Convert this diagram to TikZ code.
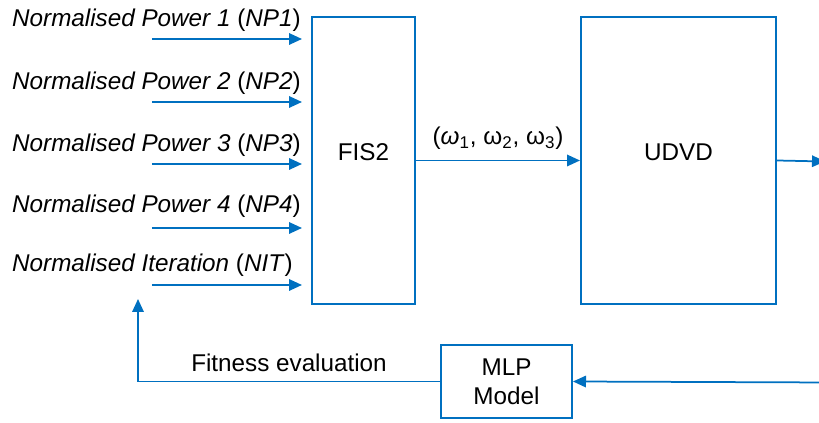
\documentclass[tikz,border=0pt]{standalone}
\usepackage{fontspec}
\setmainfont{Liberation Sans}
\usetikzlibrary{positioning}
\usetikzlibrary{arrows.meta}
\definecolor{linec}{RGB}{0,112,192}

\begin{document}
\begin{tikzpicture}[scale=1.0,font=\fontsize{13.8}{16.4}\selectfont,
  blk/.style={draw=linec,line width=0.04cm,shape=rectangle,inner sep=0pt},
  conn/.style={draw=linec,line width=0.035cm,-{Triangle[length=0.26cm,width=0.23cm]}}]
\useasboundingbox (0cm,0cm) rectangle (16.38cm,8.46cm);

\node[anchor=south,blk,minimum height=5.74cm,minimum width=2.06cm,
  label={[yshift=0.16cm]center:FIS2}]
(fis) at (7.27cm,2.36cm) {};
\node[anchor=south,blk,minimum height=5.74cm,minimum width=3.9cm,
  label={[yshift=0.16cm]center:UDVD}]
(udvd) at (13.57cm,2.36cm) {};
\node[anchor=south,blk,minimum height=1.46cm,minimum width=2.62cm,align=center]
(mlp) at (10.13cm,0.08cm) {MLP\\Model};

% inputs
\coordinate (np1) at (3.04cm,7.68cm);
\coordinate (np2) at (3.04cm,6.42cm);
\coordinate (np3) at (3.04cm,5.18cm);
\coordinate (np4) at (3.04cm,3.90cm);
\coordinate (nit) at (3.04cm,2.76cm);
\node[anchor=base west] (lnp1) at (0.12cm,7.92cm) {\textit{Normalised Power 1} (\textit{NP1})};
\node[anchor=base west] (lnp2) at (0.12cm,6.66cm) {\textit{Normalised Power 2} (\textit{NP2})};
\node[anchor=base west] (lnp3) at (0.12cm,5.42cm) {\textit{Normalised Power 3} (\textit{NP3})};
\node[anchor=base west] (lnp4) at (0.12cm,4.20cm) {\textit{Normalised Power 4} (\textit{NP4})};
\node[anchor=base west] (lnit) at (0.12cm,3.02cm) {\textit{Normalised Iteration} (\textit{NIT})};
\draw[conn,shorten >=0.18cm] (np1) -- (np1 -| fis.west);
\draw[conn,shorten >=0.18cm] (np2) -- (np2 -| fis.west);
\draw[conn,shorten >=0.18cm] (np3) -- (np3 -| fis.west);
\draw[conn,shorten >=0.18cm] (np4) -- (np4 -| fis.west);
\draw[conn,shorten >=0.18cm] (nit) -- (nit -| fis.west);

\draw[conn] (fis.east) -- node[above=0.08cm] (wlab)
  {(\textit{ω}\textsubscript{1}, ω\textsubscript{2}, ω\textsubscript{3})} (udvd.west);

% output and feedback
\coordinate (udvdout) at (16.5cm,5.23cm);
\coordinate (mlpin) at (16.6cm,0.81cm);
\coordinate (fbtip) at (2.76cm,2.48cm);
\draw[conn] (udvd.east) -- (udvdout);
\draw[conn] (mlpin) -- (mlp.east);
\draw[conn] (mlp.west) -| node[pos=0.25,above=0.06cm] (fitlab) {Fitness evaluation} (fbtip);

\end{tikzpicture}
\end{document}
